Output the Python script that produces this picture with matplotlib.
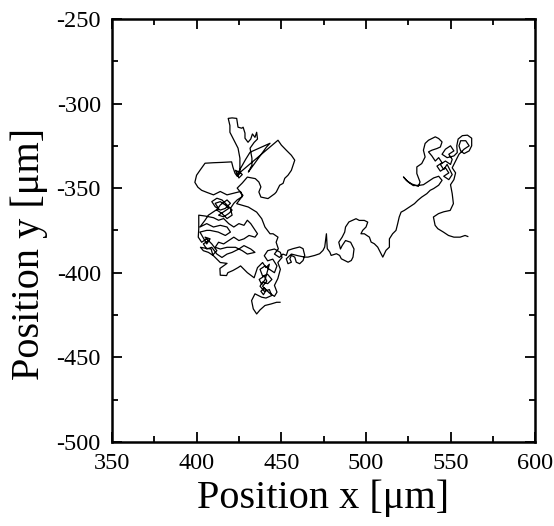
import matplotlib
matplotlib.use("Agg")
import matplotlib.pyplot as plt
from matplotlib.ticker import MultipleLocator
import numpy as np

plt.rcParams['font.family'] = ['Liberation Serif', 'DejaVu Serif']
plt.rcParams['axes.unicode_minus'] = False

# trajectory pieces (x, y) in um, in walk order
seg_bottom = [
    (449.3, -417.5), (447.3, -417.5), (444, -418.5), (440.4, -419.4), (437.5, -422),
    (435.5, -424.4), (433.5, -421.4), (432.5, -416.5), (434.5, -412.5), (438.5, -414.5),
    (441, -415), (444.4, -413.5), (443, -410), (440, -411), (437.5, -408),
    (439, -405.5), (442, -406.5), (444.5, -404), (442, -401), (439, -402),
    (437.5, -398), (440.5, -396), (443, -398), (446, -400), (447.5, -396),
    (445, -392), (442, -393), (440, -390), (442, -387), (446, -386),
    (449.5, -388), (450.5, -391), (448, -394), (449.5, -398), (448, -403.5),
    (446, -407.5), (447.5, -411.5), (446, -414), (443, -412), (440, -409),
    (438, -411), (439.5, -413), (441, -410.5), (439, -408), (441.5, -405),
    (440, -402), (437, -404), (438.5, -407), (440.5, -404), (443, -395),
    (441, -397), (439, -394), (436, -397), (434, -403), (430, -400),
    (426, -396), (424.5, -397), (421.5, -398.7), (418.5, -400), (417.7, -401.7),
    (414, -401.5), (413.8, -397.5), (418, -394.5), (414, -394), (410, -390),
]
seg_lower_left = [
    (407, -388), (404, -387), (402.3, -385), (405, -385.5), (408.6, -386),
    (409.6, -389.5), (412, -387), (409, -383), (406, -380), (403, -382),
    (401, -379), (401.3, -374), (401.3, -370), (401.3, -366), (405, -366.5),
    (410, -367.5), (413, -369), (416, -368), (419, -371), (422, -373),
    (425, -371), (428, -372), (430, -369), (432, -371), (434, -374),
    (436, -377), (434.5, -379), (431, -378), (428, -380), (425, -381),
    (422, -379), (419, -381), (416, -383), (413, -382), (411, -385),
    (414, -386), (418, -385), (423, -385), (427, -387), (430, -389),
    (434.5, -388), (432, -386), (428, -384), (425, -386), (421, -388),
    (418, -389), (415, -391), (412, -389), (409, -385), (406, -386),
    (404, -383), (407, -381), (405, -379), (408, -380), (406, -383),
    (402, -376), (406, -375), (408, -375), (412.8, -376),
    (417, -378), (420, -376), (418, -373), (414, -372), (410, -373),
    (406, -371), (402, -373), (405, -369),
]
seg_knot = [
    (407, -366), (410, -364), (413, -362), (411, -359), (414, -358),
    (417, -360), (419, -362), (416, -364), (413, -366), (416, -367),
    (419, -365), (421, -363), (418, -360), (415, -357), (412, -356),
    (409, -358), (411, -361), (414, -363), (417, -362), (420, -359),
    (418, -357), (414, -360), (412, -363), (415, -365), (418, -368),
    (421, -366), (420, -362), (422, -359), (424, -357), (427, -355),
    (426, -352), (422, -353), (418, -354), (414, -352), (410, -354),
]
seg_upper_left = [
    (406, -352.5), (403, -351.3), (400.8, -349.5), (399, -346.6), (400, -342.4),
    (402, -339.5), (405, -335.3), (410, -335), (415, -334.8), (420.7, -334.5),
    (421.5, -337.7), (422.7, -341.2), (424, -343), (426, -341), (423, -339.5),
    (425, -344), (427, -342), (425.6, -340.6), (425.6, -332.3), (424.5, -326.4),
    (421.5, -320.5), (419.7, -317), (419.7, -313), (418.7, -308.8), (421, -308.5),
    (423.7, -308.8), (424.5, -314), (426.7, -314.6), (427.5, -314), (428.6, -317.5),
    (428.6, -320.5), (430.4, -322.9), (432, -321), (433, -318), (434.5, -320),
    (435.5, -317), (436, -321), (434, -323), (431.6, -326.4), (432.7, -332.3),
    (432.7, -336.5), (430.6, -340.5), (441.4, -325.6), (443.4, -323.5), (431.6, -328.8),
    (429, -333), (423.7, -342.4), (436, -332), (448.1, -321.7), (450.1, -324.6),
    (453, -327.6), (456, -330.6), (458, -333.5), (457, -336.5), (456, -339.5),
    (454, -342.4), (452.1, -344.2), (451.1, -347.2), (449.1, -348.3), (447.1, -352.3),
    (446.2, -353.3), (442.2, -356.2), (438, -355.3), (436.8, -352.3), (438, -349.3),
    (436.8, -346.4), (434.7, -344.4), (430, -343.5), (427, -347), (424, -350),
    (427.4, -354.3), (423.7, -359.2),
]
seg_diagonal = [
    (430.6, -361.2), (435.5, -364.2), (438.5, -368.1), (440.4, -373), (443.4, -377),
    (445.2, -377), (448.1, -379), (447, -382), (448.3, -385.9), (446, -389),
    (449, -391), (451, -389),
]
seg_bridge = [
    (453, -389.8), (454, -386.8), (457, -385.8), (460.9, -384.8), (462.9, -385.8),
    (463.9, -389.8), (462.9, -392.8), (460.9, -394.7), (458.9, -393.8), (458, -390.8),
    (456, -389.8), (455.1, -391.8), (456, -393.8), (454, -394.7), (453, -391.8),
    (456, -389), (460, -390), (463.9, -390.8), (465.8, -390.8), (469.8, -389.8),
    (472.7, -388.8), (474.7, -386.8), (475.7, -384.8), (476.7, -377), (477.2, -385.8),
    (478.7, -387.8), (479.5, -389.8), (482.6, -388.8), (484.5, -389.8), (485.5, -391.8),
    (489.5, -393.8), (491.4, -392.8), (492.4, -390.8), (493, -386), (491, -382),
    (488, -381), (486, -384), (485, -386), (484, -382), (486, -379),
    (487.5, -376), (488, -373), (490, -370), (494.2, -368.1), (496.1, -369.1),
    (499.1, -369.1), (501.1, -370.1), (500.1, -373), (498.1, -375), (497.1, -377),
    (499.1, -377), (502.1, -379), (503.1, -381.9), (505, -382.9), (507, -384.9),
    (509, -388.8), (510, -390.8), (511.9, -386.8), (513.9, -384.9), (513.9, -380),
    (515.8, -377), (517.8, -375), (518.8, -371), (519.7, -367.1), (520.8, -364.2),
    (522.7, -363.2), (525.7, -361.2), (528.7, -359.2), (530.7, -357.2),
]
seg_right = [
    (533, -355.3), (536, -353.3), (538, -351.3), (540, -350.3), (543, -348.3),
    (545, -345.4), (543, -343), (540, -344), (537, -346), (534, -348),
    (532, -348.3), (528, -348.5), (525, -346.4), (522.2, -343.4), (524, -345.5),
    (527, -347.5), (531, -349), (532, -346.4), (530.1, -341.4), (530.1, -337.5),
    (533, -335.5), (535, -331.6), (534, -327.6), (535, -323.6), (537, -321.7),
    (539, -320.7), (541, -319.7), (543, -320.7), (545, -322.7), (544, -325.7),
    (542, -326.6), (539, -327.6), (537, -328.6), (539, -331), (541, -334),
    (543, -332), (545, -335), (542, -337), (544, -340), (547, -338),
    (549, -341), (546, -343), (549, -345), (551, -342), (548, -336),
    (546, -339), (544, -336), (547, -334), (550, -336),
    (551, -333), (549, -330), (552, -328), (550, -325), (547, -327),
    (545, -330), (548, -332), (552, -331), (554, -329), (553.7, -325),
    (554.5, -321), (557, -319), (560, -318.7), (562.5, -320.5), (562.5, -325),
    (561, -328), (558, -329.6), (556, -328), (555, -325), (556, -322),
    (559, -322), (561, -325), (558, -327), (555, -330), (553, -334),
    (551, -338), (553, -341), (552, -345), (550, -348), (551, -353.3),
    (551.7, -359.2), (549.8, -363.2), (546, -364), (542.9, -365.1), (539.9, -367.1),
    (540.9, -372), (542.5, -374), (545.8, -376), (548.8, -378), (552, -379),
    (555.7, -379), (558.6, -378), (560.2, -378.6),
]

track = np.array(seg_bottom + seg_lower_left + seg_knot + seg_upper_left
                 + seg_diagonal + seg_bridge + seg_right)

fig = plt.figure(figsize=(5.54, 5.26), dpi=100)
ax = fig.add_axes([0.202, 0.160, 0.764, 0.804])
ax.plot(track[:, 0], track[:, 1], color='black', lw=0.9)

ax.set_xlim(350, 600)
ax.set_ylim(-500, -250)
ax.xaxis.set_major_locator(MultipleLocator(50))
ax.xaxis.set_minor_locator(MultipleLocator(25))
ax.yaxis.set_major_locator(MultipleLocator(50))
ax.yaxis.set_minor_locator(MultipleLocator(25))
ax.tick_params(which='both', direction='in', top=True, right=True, width=1.3)
ax.tick_params(which='major', length=7, labelsize=17.5, pad=8)
ax.tick_params(which='minor', length=4.5)
for s in ax.spines.values():
    s.set_linewidth(1.8)

ax.set_xlabel('Position x [μm]', fontsize=29)
ax.set_ylabel('Position y [μm]', fontsize=29)
ax.xaxis.set_label_coords(0.5, -0.088)
ax.yaxis.set_label_coords(-0.15, 0.445)

fig.savefig('out.png', dpi=100)
